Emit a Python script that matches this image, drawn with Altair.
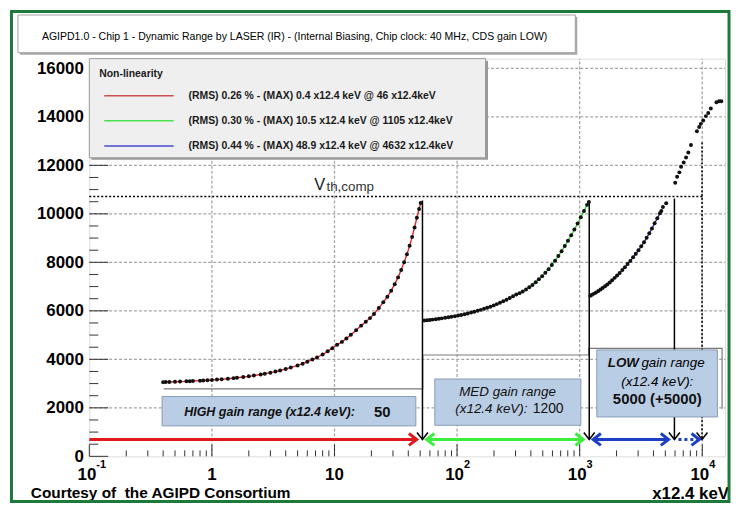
import altair as alt
import pandas as pd

# ---------------- data ----------------
red_x = [0.40, 0.42, 0.45, 0.50, 0.55, 0.62, 0.66, 0.70, 0.80, 0.85, 0.92, 1.0, 1.1, 1.2, 1.35,
         1.5, 1.6, 1.8, 2.0, 2.2, 2.5, 2.7, 3.0, 3.3, 3.6, 4.0, 4.4, 5.0, 5.5, 6.0,
         6.6, 7.2, 8.0, 8.8, 9.6, 10.5, 11.5, 12.5, 13.6, 15, 16.5, 18, 19.5, 21, 23,
         25, 27, 29, 31, 33, 35, 37, 39, 41, 43, 45, 47, 49, 50.5]
red_y = [3060, 3063, 3068, 3075, 3082, 3093, 3099, 3105, 3120, 3128, 3138, 3150, 3165, 3180, 3200,
         3225, 3240, 3270, 3300, 3330, 3375, 3405, 3450, 3495, 3540, 3600, 3660, 3750, 3820, 3900,
         3990, 4080, 4200, 4330, 4460, 4600, 4720, 4860, 5010, 5200, 5390, 5550, 5700, 5870, 6120,
         6350, 6580, 6830, 7100, 7380, 7680, 8000, 8330, 8680, 9050, 9440, 9840, 10200, 10450]

green_x = [54, 57, 60, 63, 67, 71, 75, 80, 85, 90, 96, 102, 108, 115, 122, 130, 138, 147, 156, 166,
           176, 187, 199, 211, 224, 238, 253, 269, 286, 304, 323, 343, 365, 388, 412, 438, 465, 494,
           525, 558, 593, 630, 670, 712, 756, 803, 853, 906, 962, 1022, 1085, 1150, 1190]
green_y = [5600, 5610, 5625, 5638, 5655, 5672, 5690, 5712, 5733, 5755, 5781, 5807, 5832, 5862, 5893,
           5928, 5962, 6000, 6040, 6083, 6125, 6173, 6225, 6277, 6333, 6393, 6458, 6527, 6600, 6678,
           6730, 6800, 6880, 6970, 7070, 7180, 7300, 7430, 7570, 7720, 7890, 8070, 8260, 8460, 8670,
           8890, 9120, 9350, 9600, 9860, 10120, 10370, 10490]

blue_x = [1220, 1260, 1310, 1360, 1420, 1480, 1540, 1610, 1680, 1760, 1840, 1930, 2020, 2120, 2230,
          2340, 2460, 2590, 2730, 2870, 3020, 3180, 3350, 3520, 3700, 3890, 4090, 4300, 4520, 4640]
blue_y = [6620, 6660, 6710, 6760, 6820, 6880, 6940, 7010, 7090, 7170, 7260, 7360, 7460, 7560, 7680,
          7800, 7930, 8060, 8210, 8350, 8500, 8660, 8830, 9010, 9200, 9400, 9610, 9820, 10020, 10120]

extra_x = [4780, 5080, 6020, 6240, 6510, 6720, 7060, 7380, 7700, 8090, 9050, 9440, 9740, 10180,
           10710, 11190, 11750, 13060, 13720, 14310]
extra_y = [10280, 10440, 11280, 11530, 11710, 11940, 12120, 12320, 12530, 12840, 13410, 13580, 13710,
           13850, 14030, 14160, 14340, 14600, 14640, 14640]

vth_level = 10720
vth_x = [0.1, 10380]

step_x = [0.404, 52.5, 52.5, 1190, 1190, 14520, 14520]
step_y = [2780, 2780, 4180, 4180, 4450, 4450, 1960]

arrow_x = [52.2, 1197, 5930, 9960]
arrow_top = [10550, 10480, 10630, 12940]
arrow_dotted = [False, False, False, True]
range_level = 695

range_series = ["red", "green", "blue", "bluedot"]
range_start = [0.1, 56.4, 1288, 6400]
range_end = [46.8, 1069, 5310, 9460]
range_dotted = [False, False, False, True]

legend_title = "Non-linearity"
legend_labels = ["(RMS) 0.26 % - (MAX) 0.4 x12.4 keV @ 46 x12.4keV",
                 "(RMS) 0.30 % - (MAX) 10.5 x12.4 keV @ 1105 x12.4keV",
                 "(RMS) 0.44 % - (MAX) 48.9 x12.4 keV @ 4632 x12.4keV"]

title_text = ("AGIPD1.0 - Chip 1 - Dynamic Range by LASER (IR) - (Internal Biasing, "
              "Chip clock: 40 MHz, CDS gain LOW)")

y_major = [0, 2000, 4000, 6000, 8000, 10000, 12000, 14000, 16000]
y_minor = [v for v in range(500, 16001, 500) if v % 2000]
x_decades = [0.1, 1, 10, 100, 1000, 10000]
x_minor = [m * 10.0 ** e for e in (-1, 0, 1, 2, 3) for m in range(2, 10)]
x_base_text = ["10", "1", "10", "10", "10", "10"]
x_sup_text = ["-1", "", "", "2", "3", "4"]

# ---------------- styling ----------------
FONT = "Liberation Sans"
PW, PH = 641, 401
X_DOMAIN = [0.1, 15350]
Y_DOMAIN = [0, 16400]
xs = alt.Scale(type="log", domain=X_DOMAIN, nice=False)
ys = alt.Scale(type="linear", domain=Y_DOMAIN, nice=False, zero=False)
XAX = alt.Axis(values=x_decades[1:], labels=False, ticks=False, domain=False, grid=False, title=None)
YAX = alt.Axis(values=y_major, format="d", ticks=False, domain=False, grid=False, labelFont=FONT,
               labelFontSize=17, labelFontWeight="bold", labelColor="#000", labelPadding=6,
               title=None)

C_RED_FIT, C_GREEN_FIT, C_BLUE_FIT = "#e3262b", "#33d633", "#2a2ac0"
C_RANGE = ["#e0191e", "#3cef3c", "#1d3fc4", "#1d3fc4"]
C_LEG = ["#c9504d", "#4be04b", "#4a4ad0"]
BOX_FILL, BOX_STROKE = "#b9cde5", "#8b9cb6"
GRID_COLOR = "#a6a6a6"

DOWN = "M-1,-1.3L0,0L1,-1.3"
RIGHT = "M-1.3,-1L0,0L-1.3,1"
LEFT = "M1.3,-1L0,0L1.3,1"


def X(f):
    return alt.X(f"{f}:Q", scale=xs, axis=XAX)


def Y(f):
    return alt.Y(f"{f}:Q", scale=ys, axis=YAX)


one = pd.DataFrame({"k": [0]})


def dtext(x, y, s, size, weight="normal", style="normal", align="center",
          baseline="middle", color="#111"):
    df = pd.DataFrame({"x": [x], "y": [y], "t": [s]})
    return alt.Chart(df).mark_text(font=FONT, fontSize=size, fontWeight=weight, fontStyle=style,
                                   align=align, baseline=baseline, color=color).encode(
        x=X("x"), y=Y("y"), text="t:N")


def ptext(px, py, s, size, weight="normal", style="normal", align="left",
          baseline="middle", color="#111"):
    return alt.Chart(one).mark_text(text=s, font=FONT, fontSize=size, fontWeight=weight,
                                    fontStyle=style, align=align, baseline=baseline,
                                    color=color).encode(x=alt.value(px), y=alt.value(py))


def prect(x1, y1, x2, y2, **kw):
    return alt.Chart(one).mark_rect(**kw).encode(x=alt.value(x1), x2=alt.value(x2),
                                                 y=alt.value(y1), y2=alt.value(y2))


layers = []

# dotted grid (spanning the full scale domains)
ygrid = pd.DataFrame({"gy": y_major[1:], "gx0": X_DOMAIN[0], "gx1": X_DOMAIN[1]})
xgrid = pd.DataFrame({"gx": x_decades[1:], "gy0": Y_DOMAIN[0], "gy1": Y_DOMAIN[1]})
layers.append(alt.Chart(ygrid).mark_rule(color=GRID_COLOR, strokeWidth=1.3, strokeDash=[3, 2]).encode(
    y=Y("gy"), x=X("gx0"), x2=alt.X2("gx1:Q")))
layers.append(alt.Chart(xgrid).mark_rule(color=GRID_COLOR, strokeWidth=1.3, strokeDash=[3, 2]).encode(
    x=X("gx"), y=Y("gy0"), y2=alt.Y2("gy1:Q")))

# manual inward ticks (the layers also carry the shared axes)
layers.append(alt.Chart(pd.DataFrame({"v": y_major})).mark_rule(color="#333", strokeWidth=1).encode(
    y=Y("v"), x=alt.value(0), x2=alt.value(19)))
layers.append(alt.Chart(pd.DataFrame({"v": y_minor})).mark_rule(color="#333", strokeWidth=1).encode(
    y=Y("v"), x=alt.value(0), x2=alt.value(9)))
layers.append(alt.Chart(pd.DataFrame({"v": x_decades})).mark_rule(color="#333", strokeWidth=1).encode(
    x=X("v"), y=alt.value(PH), y2=alt.value(PH - 12)))
layers.append(alt.Chart(pd.DataFrame({"v": x_minor})).mark_rule(color="#333", strokeWidth=1).encode(
    x=X("v"), y=alt.value(PH), y2=alt.value(PH - 6)))

# gray step line
step_df = pd.DataFrame({"x": step_x, "y": step_y, "i": list(range(len(step_x)))})
layers.append(alt.Chart(step_df).mark_line(color="#7a7a7a", strokeWidth=1.2).encode(
    x=X("x"), y=Y("y"), order="i:Q"))

# comparator threshold
vth_df = pd.DataFrame({"x1": [vth_x[0]], "x2": [vth_x[1]], "y": [vth_level]})
layers.append(alt.Chart(vth_df).mark_rule(color="#000", strokeWidth=1.5, strokeDash=[2, 2]).encode(
    x=X("x1"), x2=alt.X2("x2:Q"), y=Y("y")))
layers.append(dtext(6.83, 10990, "V", 16.5, color="#1a1a1a", align="left", baseline="alphabetic"))
layers.append(dtext(8.6, 10940, "th,comp", 13.5, color="#333", align="left", baseline="alphabetic"))

# vertical black arrows
arr_df = pd.DataFrame({"x": arrow_x, "top": arrow_top, "bot": [range_level] * len(arrow_x),
                       "dotted": arrow_dotted})
layers.append(alt.Chart(arr_df[~arr_df["dotted"]]).mark_rule(color="#000", strokeWidth=1.5).encode(
    x=X("x"), y=Y("top"), y2=alt.Y2("bot:Q")))
layers.append(alt.Chart(arr_df[arr_df["dotted"]]).mark_rule(color="#000", strokeWidth=1.5,
                                                            strokeDash=[2, 2]).encode(
    x=X("x"), y=Y("top"), y2=alt.Y2("bot:Q")))
layers.append(alt.Chart(arr_df).mark_point(shape=DOWN, filled=False, size=120, color="#000",
                                           strokeWidth=1.5, opacity=1).encode(x=X("x"), y=Y("bot")))

# fitted lines and measured points
for xv, yv, c in [(red_x, red_y, C_RED_FIT), (green_x, green_y, C_GREEN_FIT), (blue_x, blue_y, C_BLUE_FIT)]:
    layers.append(alt.Chart(pd.DataFrame({"x": xv, "y": yv})).mark_line(color=c, strokeWidth=1.4).encode(
        x=X("x"), y=Y("y")))
pts = pd.DataFrame({"x": red_x + green_x + blue_x + extra_x, "y": red_y + green_y + blue_y + extra_y})
layers.append(alt.Chart(pts).mark_circle(color="#111111", size=16, opacity=1).encode(x=X("x"), y=Y("y")))

# range boxes
boxes = pd.DataFrame({"x1": [0.392, 65.8, 1380], "x2": [46.1, 1023, 13300],
                      "y1": [1256, 1280, 1624], "y2": [2466, 3190, 4389]})
layers.append(alt.Chart(boxes).mark_rect(fill=BOX_FILL, stroke=BOX_STROKE, strokeWidth=1).encode(
    x=X("x1"), x2=alt.X2("x2:Q"), y=Y("y1"), y2=alt.Y2("y2:Q")))
layers.append(dtext(2.95, 1840, "HIGH gain range (x12.4 keV):", 12.6, weight="bold", style="italic"))
layers.append(dtext(21.0, 1840, "50", 15, weight="bold", align="left"))
layers.append(dtext(258, 2671, "MED gain range", 13.5, style="italic"))
layers.append(dtext(375, 1935, "(x12.4 keV):", 13.5, style="italic", align="right"))
layers.append(dtext(414, 1935, "1200", 14, align="left"))
layers.append(dtext(1694, 3845, "LOW", 13.5, weight="bold", style="italic", align="left"))
layers.append(dtext(3191, 3845, "gain range", 13.5, style="italic", align="left", color="#000"))
layers.append(dtext(4297, 3055, "(x12.4 keV):", 13.5, style="italic", color="#000"))
layers.append(dtext(4297, 2372, "5000 (+5000)", 15, weight="bold"))

# horizontal range arrows
rng = pd.DataFrame({"s": range_series, "x1": range_start, "x2": range_end,
                    "y": [range_level] * len(range_series), "dotted": range_dotted})
col_scale = alt.Scale(domain=range_series, range=C_RANGE)
layers.append(alt.Chart(rng[~rng["dotted"]]).mark_rule(strokeWidth=3).encode(
    x=X("x1"), x2=alt.X2("x2:Q"), y=Y("y"),
    color=alt.Color("s:N", scale=col_scale, legend=None)))
layers.append(alt.Chart(rng[rng["dotted"]]).mark_rule(strokeWidth=3, strokeDash=[3, 3]).encode(
    x=X("x1"), x2=alt.X2("x2:Q"), y=Y("y"),
    color=alt.Color("s:N", scale=col_scale, legend=None)))
heads = pd.DataFrame({
    "x": range_end + [range_start[1], range_start[2]],
    "y": [range_level] * 6,
    "dir": ["right"] * 4 + ["left", "left"],
    "s": range_series + ["green", "blue"]})
layers.append(alt.Chart(heads).mark_point(filled=False, size=144, strokeWidth=3, opacity=1).encode(
    x=X("x"), y=Y("y"),
    shape=alt.Shape("dir:N", scale=alt.Scale(domain=["right", "left"], range=[RIGHT, LEFT]), legend=None),
    color=alt.Color("s:N", scale=col_scale, legend=None)))

# legend box
layers.append(prect(2, 2, 402, 102, fill="#9a9a9a"))
layers.append(prect(0, 0, 399.5, 100, fill="#efefef", stroke="#9a9a9a", strokeWidth=1))
layers.append(ptext(10, 15.5, legend_title, 10.5, weight="bold", color="#1a1a1a"))
for i, (lab, c) in enumerate(zip(legend_labels, C_LEG)):
    yy = 37.3 + 25.4 * i
    layers.append(alt.Chart(one).mark_rule(color=c, strokeWidth=1.5).encode(
        x=alt.value(15), x2=alt.value(85), y=alt.value(yy)))
    layers.append(ptext(100, yy, lab, 10.5, weight="bold", color="#1a1a1a"))

# title box
layers.append(prect(-70, -42, 492, -4, fill="#a8a8a8"))
layers.append(prect(-72, -44, 490, -6, fill="#ffffff", stroke="#a0a0a0", strokeWidth=1))
layers.append(ptext(207, -22, title_text, 10.6, align="center", color="#000"))

# x tick labels
dec_df = pd.DataFrame({"v": x_decades, "b": x_base_text, "s": x_sup_text})
with_sup = dec_df[dec_df["s"] != ""]
no_sup = dec_df[dec_df["s"] == ""]
layers.append(alt.Chart(with_sup).mark_text(font=FONT, fontSize=17, fontWeight="bold", align="right",
                                            baseline="alphabetic", dx=7, color="#000").encode(
    x=X("v"), y=alt.value(PH + 24), text="b:N"))
layers.append(alt.Chart(with_sup).mark_text(font=FONT, fontSize=11, fontWeight="bold", align="left",
                                            baseline="alphabetic", dx=7, color="#000").encode(
    x=X("v"), y=alt.value(PH + 12), text="s:N"))
layers.append(alt.Chart(no_sup).mark_text(font=FONT, fontSize=17, fontWeight="bold", align="center",
                                          baseline="alphabetic", color="#000").encode(
    x=X("v"), y=alt.value(PH + 24), text="b:N"))

# footer texts
layers.append(ptext(-59, 443, "Courtesy of\u00a0 the AGIPD Consortium", 15.5, weight="bold",
                    baseline="alphabetic", color="#000"))
layers.append(ptext(645, 444, "x12.4 keV", 17, weight="bold", align="right",
                    baseline="alphabetic", color="#000"))

# outer green frame
layers.append(prect(-78.5, -47.5, 645, 446.5, fillOpacity=0, stroke="#1d7a3a", strokeWidth=3))

chart = alt.layer(*layers).properties(
    width=PW, height=PH,
    autosize=alt.AutoSizeParams(type="none"),
    padding={"left": 82, "top": 49, "right": 6, "bottom": 47},
).configure_view(stroke="#777", strokeWidth=1).configure(background="white")

chart.save("out.html", embed_options={"renderer": "svg", "actions": False})
